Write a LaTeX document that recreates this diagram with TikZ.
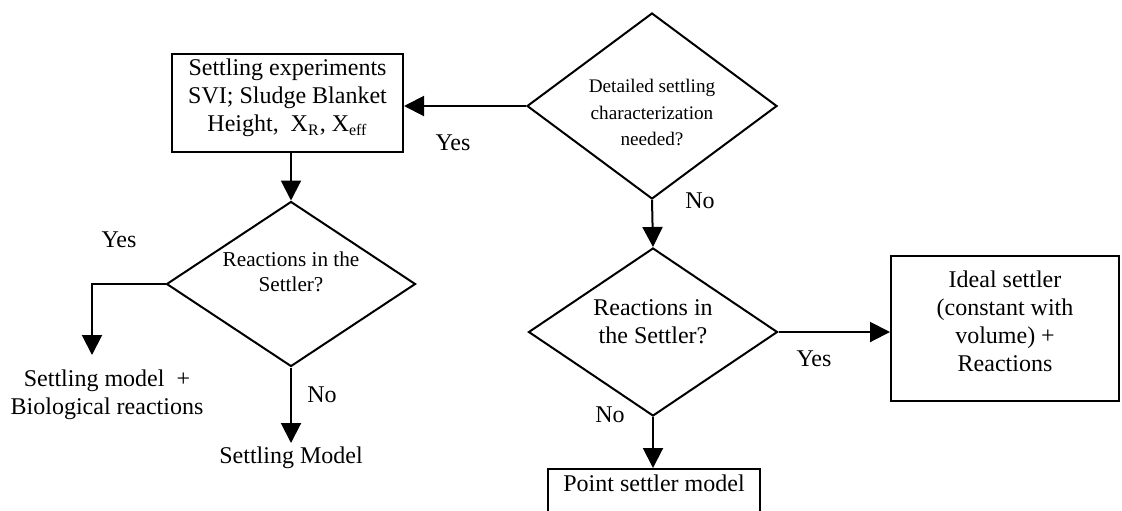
\documentclass[tikz,border=0pt]{standalone}
\usepackage{fontspec}
\setmainfont{Liberation Serif}
\usetikzlibrary{arrows.meta,shapes.geometric}
% multi-line centred text, raised by #1 without changing the node size
\newcommand{\dtext}[2]{\raisebox{#1}[0pt][0pt]{\begin{tabular}{@{}c@{}}#2\end{tabular}}}

\begin{document}
\begin{tikzpicture}[x=0.5pt,y=-0.5pt,
  every node/.style={font=\fontsize{12}{14}\selectfont},
  flow/.style={draw, line width=1pt, -{Triangle[width=10pt,length=10pt]}},
  procbox/.style={draw, line width=1pt, rectangle, align=center, inner sep=0pt},
  decision/.style={draw, line width=1pt, diamond, inner sep=0pt},
  plain/.style={inner sep=1.5pt, align=center}]

\useasboundingbox (0,0) rectangle (1122,510);
\clip (0,0) rectangle (1122,510);

% process boxes
\node[procbox, minimum width=115.5pt, minimum height=49pt] (exp) at (287.5,103)
  {\dtext{-0.5pt}{Settling experiments\\SVI; Sludge Blanket\\Height,\ \ X\textsubscript{R}, X\textsubscript{eff}}};
\node[procbox, minimum width=114pt, minimum height=72.5pt] (ideal) at (1005,328.5)
  {\dtext{-0.5pt}{Ideal settler\\(constant with\\volume) +\\Reactions}};
\node[draw, line width=1pt, anchor=north, minimum width=106pt, inner xsep=0pt,
  inner ysep=2.5pt, text height=8.5pt, text depth=30pt] (point) at (654,468)
  {Point settler model};

% decisions
\node[decision, minimum width=125pt, minimum height=93pt,
  font=\fontsize{9.6}{13.3}\selectfont] (d1) at (652,106)
  {\dtext{-6.4pt}{Detailed settling\\characterization\\needed?}};
\node[decision, minimum width=124.5pt, minimum height=82.5pt,
  font=\fontsize{10.6}{12.5}\selectfont] (d2) at (291,284)
  {\dtext{2.3pt}{Reactions in the\\Settler?}};
\node[decision, minimum width=124.5pt, minimum height=84pt] (d3) at (653,332)
  {\dtext{1pt}{Reactions in\\the Settler?}};

% end results without frames
\node[plain] (bio) at (107,395) {Settling model\ \ +\\Biological reactions};
\node[plain, anchor=north] (sm) at (291,443) {Settling Model};
\coordinate (bioend) at (92,355);

% connectors
\draw[flow] (d1.west) -- (d1.west -| exp.east);
\draw[flow] (d2.north |- exp.south) -- (d2.north);
\draw[flow] (d1.south) -- (d3.north);
\draw[flow] (d2.west) -| (bioend);
\draw[flow] (d2.south) -- (sm.north);
\draw[flow] (d3.east) -- (d3.east -| ideal.west);
\draw[flow] (d3.south) -- (d3.south |- point.north);

% branch labels
\node at (453,143) {Yes};
\node at (700,201) {No};
\node at (119,240) {Yes};
\node at (322,395) {No};
\node at (814,359) {Yes};
\node at (610,415) {No};
\end{tikzpicture}
\end{document}
